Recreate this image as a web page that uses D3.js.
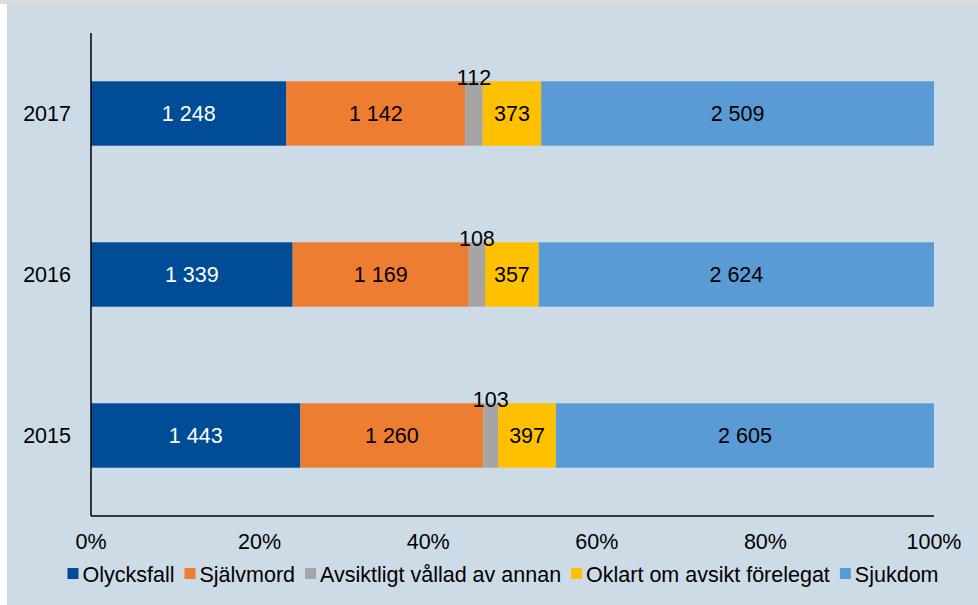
<!DOCTYPE html>
<html><head><meta charset="utf-8">
<script src="https://cdn.jsdelivr.net/npm/d3@7"></script>
<style>body{margin:0;background:#fff}svg{display:block;font-family:"Liberation Sans",Arial,sans-serif}</style>
</head><body><svg id="c" width="978" height="605"></svg>
<script>
const years = ["2017", "2016", "2015"];
const seriesNames = ["Olycksfall", "Självmord", "Avsiktligt vållad av annan", "Oklart om avsikt förelegat", "Sjukdom"];
const olycksfall = [1248, 1339, 1443];
const sjalvmord = [1142, 1169, 1260];
const avsiktligt = [112, 108, 103];
const oklart = [373, 357, 397];
const sjukdom = [2509, 2624, 2605];
const xTicks = [0, 0.2, 0.4, 0.6, 0.8, 1];
const colors = ["#004c97", "#ed7d31", "#a5a5a5", "#ffc000", "#5b9bd5"];
const labelColors = ["#fff", "#000", "#000", "#000", "#000"];
const smallOutside = [false, false, true, false, false];

const FS = 21.5;
const values = [olycksfall, sjalvmord, avsiktligt, oklart, sjukdom];
const svg = d3.select("#c");
const bg = "#cddbe7";
svg.append("rect").attr("x",0).attr("y",0).attr("width",978).attr("height",605).attr("fill","#fff");
svg.append("rect").attr("x",0).attr("y",0).attr("width",978).attr("height",4).attr("fill","#dcdcdc");
svg.append("rect").attr("x",7).attr("y",4).attr("width",971).attr("height",601).attr("fill",bg);

const x = d3.scaleLinear().domain([0,1]).range([91,934]);
const y = d3.scaleBand().domain(years).range([33,516]).paddingInner(0.6).paddingOuter(0.3);

const rows = years.map((yr,i)=>{
  const o = {year: yr}; seriesNames.forEach((s,j)=>o[s]=values[j][i]); return o;
});
const totals = rows.map(r=>d3.sum(seriesNames,s=>r[s]));
const norm = rows.map((r,i)=>{const o={year:r.year}; seriesNames.forEach(s=>o[s]=r[s]/totals[i]); return o;});
const stack = d3.stack().keys(seriesNames)(norm);

const fmt = v => d3.format(",")(v).replace(/,/g," ");

stack.forEach((layer,j)=>{
  const g = svg.append("g");
  layer.forEach((d,i)=>{
    g.append("rect").attr("x",x(d[0])).attr("y",y(years[i])).attr("width",x(d[1])-x(d[0])).attr("height",y.bandwidth()).attr("fill",colors[j]);
  });
});
stack.forEach((layer,j)=>{
  layer.forEach((d,i)=>{
    const cx = (x(d[0])+x(d[1]))/2;
    const t = svg.append("text").attr("x",cx).attr("text-anchor","middle").attr("font-size",FS).attr("fill",labelColors[j]).text(fmt(values[j][i]));
    if (smallOutside[j]) t.attr("y", y(years[i])+4);
    else t.attr("y", y(years[i])+y.bandwidth()/2).attr("dy","0.35em");
  });
});

// axes
svg.append("line").attr("x1",91).attr("x2",91).attr("y1",33).attr("y2",516).attr("stroke","#000").attr("stroke-width",1.5);
svg.append("line").attr("x1",91).attr("x2",934).attr("y1",516).attr("y2",516).attr("stroke","#000").attr("stroke-width",1.5);
xTicks.forEach(t=>{
  svg.append("text").attr("x",x(t)).attr("y",549).attr("text-anchor","middle").attr("font-size",FS).attr("fill","#000").text(d3.format(".0%")(t));
});
years.forEach(yr=>{
  svg.append("text").attr("x",71).attr("y",y(yr)+y.bandwidth()/2).attr("dy","0.35em").attr("text-anchor","end").attr("font-size",FS).attr("fill","#000").text(yr);
});

// legend
const lg = svg.append("g");
let cx = 0;
seriesNames.forEach((s,j)=>{
  const gi = lg.append("g");
  gi.append("rect").attr("x",0).attr("y",-6).attr("width",11).attr("height",11).attr("fill",colors[j]);
  const tx = gi.append("text").attr("x",15).attr("y",0).attr("dy","0.35em").attr("font-size",FS).attr("fill","#000").text(s);
  const w = tx.node().getComputedTextLength();
  gi.attr("transform",`translate(${cx},0)`);
  cx += 15 + w + 10;
});
const totalW = cx - 10;
lg.attr("transform",`translate(${503 - totalW/2},574)`);
</script></body></html>
